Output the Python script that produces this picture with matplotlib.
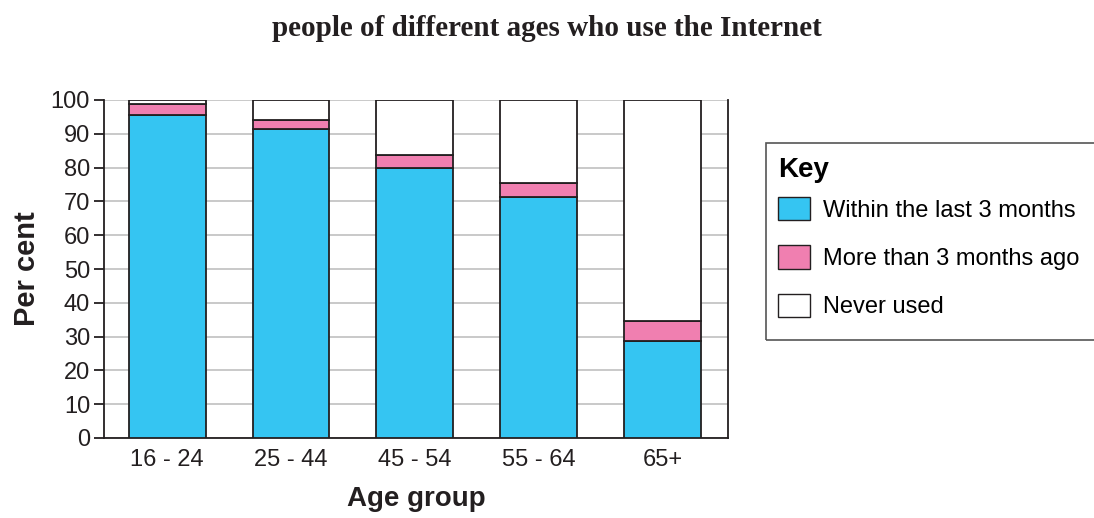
import matplotlib.pyplot as plt
from matplotlib.patches import Patch, Rectangle

age_groups = ['16 - 24', '25 - 44', '45 - 54', '55 - 64', '65+']
within_3_months = [95.5, 91.3, 79.8, 71.2, 28.8]
more_than_3_months = [3.3, 2.8, 3.9, 4.1, 5.9]
never_used = [100 - a - b for a, b in zip(within_3_months, more_than_3_months)]

blue = '#35c5f2'
pink = '#f07fb0'
edge = '#231f20'

plt.rcParams['font.family'] = ['Liberation Sans', 'DejaVu Sans']

fig = plt.figure(figsize=(10.94, 5.18), dpi=100)
ax = fig.add_axes([104 / 1094, 1 - 438 / 518, (728 - 104) / 1094, 338 / 518])

x = range(len(age_groups))
w = 0.62
ax.bar(x, within_3_months, w, color=blue, edgecolor=edge, linewidth=1.3, zorder=3)
ax.bar(x, more_than_3_months, w, bottom=within_3_months, color=pink,
       edgecolor=edge, linewidth=1.3, zorder=3)
bottoms = [a + b for a, b in zip(within_3_months, more_than_3_months)]
ax.bar(x, never_used, w, bottom=bottoms, color='white', edgecolor=edge,
       linewidth=1.3, zorder=3)

ax.set_xlim(-0.51, 4.53)
ax.set_ylim(0, 100)
ax.set_yticks(range(0, 101, 10))
ax.set_xticks(list(x))
ax.set_xticklabels(age_groups)
ax.tick_params(axis='y', labelsize=17, length=7, width=1.3, color=edge, labelcolor=edge, pad=3)
ax.tick_params(axis='x', labelsize=17, length=0, labelcolor=edge, pad=8)
ax.yaxis.grid(True, color='#c0c0c0', linewidth=1.2, zorder=0)
ax.set_axisbelow(True)
ax.spines['top'].set_visible(False)
for s in ['left', 'right', 'bottom']:
    ax.spines[s].set_color(edge)
    ax.spines[s].set_linewidth(1.3)

ax.set_ylabel('Per cent', fontsize=21, fontweight='bold', color=edge, labelpad=7)
ax.set_xlabel('Age group', fontsize=20, fontweight='bold', color=edge, labelpad=11)

fig.text(0.5, 1 - 29 / 518, 'people of different ages who use the Internet',
         ha='center', va='center', fontsize=21, fontweight='bold',
         family=['Liberation Serif', 'DejaVu Serif'], color=edge)

# legend box, cut off at the right edge like the original
fig.patches.append(Rectangle((766 / 1094, 1 - 340 / 518), 0.4, 197 / 518,
                             transform=fig.transFigure, facecolor='none',
                             edgecolor='#555555', linewidth=1.2))
handles = [Patch(facecolor=blue, edgecolor=edge, label='Within the last 3 months'),
           Patch(facecolor=pink, edgecolor=edge, label='More than 3 months ago'),
           Patch(facecolor='white', edgecolor=edge, label='Never used')]
leg = fig.legend(handles=handles, title='Key', loc='upper left',
                 bbox_to_anchor=(778 / 1094, 1 - 157 / 518), frameon=False,
                 fontsize=17, handlelength=1.35, handleheight=1.15,
                 handletextpad=0.55, labelspacing=1.0, borderaxespad=0,
                 borderpad=0)
leg.get_title().set_fontweight('bold')
leg.get_title().set_fontsize(20)
leg._legend_box.align = 'left'
leg._legend_box.sep = 10

fig.savefig('out.png', dpi=100)
